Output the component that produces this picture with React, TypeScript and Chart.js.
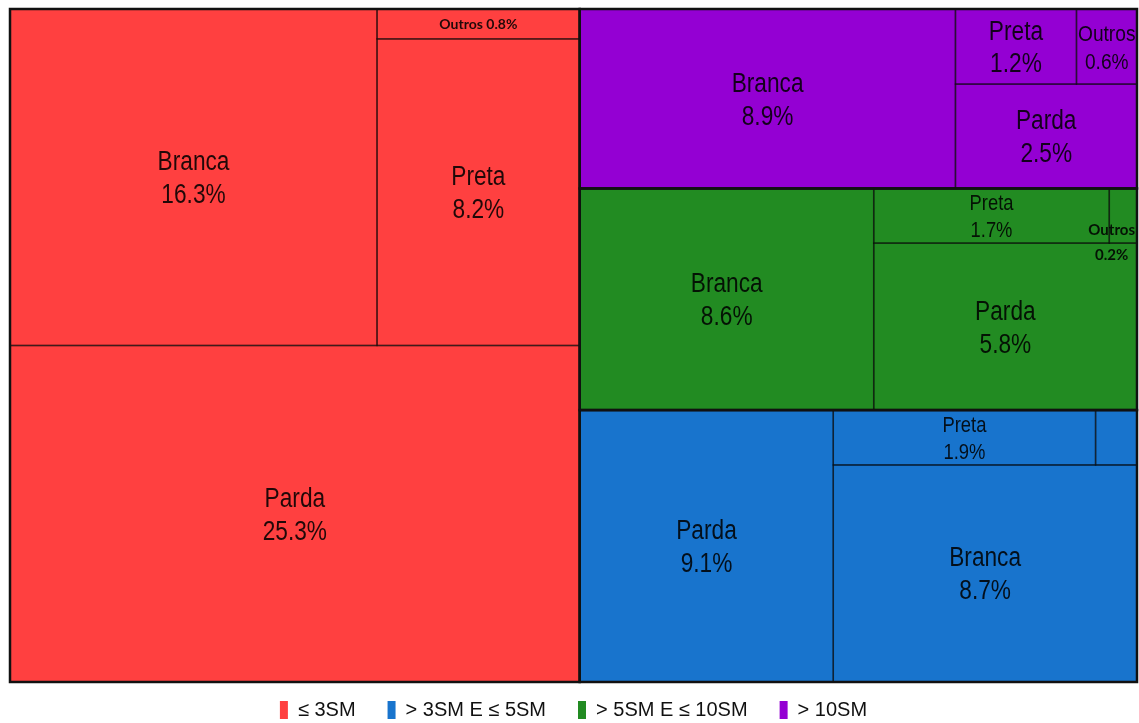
import React, { useEffect, useRef } from 'react';
import { Chart, registerables } from 'chart.js';

Chart.register(...registerables);

// ---- Data ----
const groupNames = ['≤ 3SM', '> 3SM E ≤ 5SM', '> 5SM E ≤ 10SM', '> 10SM'];
const raceLabels = ['Branca', 'Parda', 'Preta', 'Outros'];
const upTo3SMValues = [16.3, 25.3, 8.2, 0.8];
const from3To5SMValues = [8.7, 9.1, 1.9, 0.3];
const from5To10SMValues = [8.6, 5.8, 1.7, 0.2];
const over10SMValues = [8.9, 2.5, 1.2, 0.6];
const groupValues = [upTo3SMValues, from3To5SMValues, from5To10SMValues, over10SMValues];

// ---- Styles ----
const groupColors = ['#FF4040', '#1874CD', '#228B22', '#9400D3'];
// how the small "Outros" cell of each group is labelled
const outrosLabelMode = ['inlineBold', 'hidden', 'boldBelow', 'fit'];
const LABEL_FONT = "'Liberation Sans', Arial, sans-serif";
const BOLD_FONT = "Lato, 'Open Sans', sans-serif";
const NARROW = 0.84;

type Rect = { x: number; y: number; w: number; h: number };

function worst(row: number[], side: number) {
  const s = row.reduce((a, b) => a + b, 0);
  const mx = Math.max(...row);
  const mn = Math.min(...row);
  return Math.max((side * side * mx) / (s * s), (s * s) / (side * side * mn));
}

// squarified layout: columns placed at the left, rows placed at the bottom
function squarify(areas: number[], rect: Rect): Rect[] {
  const out: Rect[] = [];
  let r = { ...rect };
  let i = 0;
  while (i < areas.length) {
    const side = Math.min(r.w, r.h);
    const row = [areas[i]];
    let j = i + 1;
    while (j < areas.length && worst([...row, areas[j]], side) <= worst(row, side)) {
      row.push(areas[j]);
      j++;
    }
    const s = row.reduce((a, b) => a + b, 0);
    if (r.w >= r.h) {
      const cw = s / r.h;
      let y = r.y;
      row.forEach((v) => {
        const h = v / cw;
        out.push({ x: r.x, y, w: cw, h });
        y += h;
      });
      r = { x: r.x + cw, y: r.y, w: r.w - cw, h: r.h };
    } else {
      const rh = s / r.w;
      let x = r.x;
      row.forEach((v) => {
        const w = v / rh;
        out.push({ x, y: r.y, w, h: rh });
        x += w;
      });
      r = { x: r.x, y: r.y + rh, w: r.w, h: r.h - rh };
    }
    i = j;
  }
  return out;
}

function buildTreemap() {
  const groups = groupValues
    .map((vals, gi) => {
      const leaves = raceLabels
        .map((label, li) => ({ label, value: vals[li], li }))
        .sort((a, b) => b.value - a.value);
      const total = vals.reduce((a, b) => a + b, 0);
      return { gi, total, leaves, rect: null as Rect | null, leafRects: [] as Rect[] };
    })
    .sort((a, b) => b.total - a.total);
  const grand = groups.reduce((a, g) => a + g.total, 0);
  const rects = squarify(groups.map((g) => g.total / grand), { x: 0, y: 0, w: 1, h: 1 });
  groups.forEach((g, i) => {
    const r = rects[i];
    g.rect = r;
    const area = r.w * r.h;
    g.leafRects = squarify(g.leaves.map((l) => (l.value / g.total) * area), r);
  });
  return groups;
}

const treemapPlugin = {
  id: 'treemapCells',
  afterDatasetsDraw(chart: any) {
    const { ctx } = chart;
    const xs = chart.scales.x;
    const ys = chart.scales.y;
    const toPx = (r: Rect) => {
      const l = xs.getPixelForValue(r.x);
      const rr = xs.getPixelForValue(r.x + r.w);
      const t = ys.getPixelForValue(r.y + r.h);
      const b = ys.getPixelForValue(r.y);
      return { l, t, w: rr - l, h: b - t };
    };
    const groups = buildTreemap();
    ctx.save();
    // fills
    groups.forEach((g) => {
      g.leafRects.forEach((r) => {
        const p = toPx(r);
        ctx.fillStyle = groupColors[g.gi];
        ctx.fillRect(p.l, p.t, p.w, p.h);
      });
    });
    // leaf borders
    groups.forEach((g) => {
      g.leafRects.forEach((r) => {
        const p = toPx(r);
        ctx.strokeStyle = 'rgba(0,0,0,0.5)';
        ctx.lineWidth = 1.5;
        ctx.strokeRect(p.l, p.t, p.w, p.h);
      });
    });
    // group borders
    groups.forEach((g) => {
      const p = toPx(g.rect as Rect);
      ctx.strokeStyle = '#111';
      ctx.lineWidth = 2.5;
      ctx.strokeRect(p.l, p.t, p.w, p.h);
    });
    // labels
    const drawNarrow = (text: string, cx: number, cy: number) => {
      ctx.save();
      ctx.translate(cx, cy);
      ctx.scale(NARROW, 1);
      ctx.fillText(text, 0, 0);
      ctx.restore();
    };
    groups.forEach((g) => {
      g.leaves.forEach((leaf, k) => {
        const p = toPx(g.leafRects[k]);
        const pct = leaf.value.toFixed(1) + '%';
        const mode = leaf.label === 'Outros' ? outrosLabelMode[g.gi] : 'fit';
        ctx.textAlign = 'center';
        ctx.textBaseline = 'middle';
        ctx.fillStyle = 'rgba(0,0,0,0.87)';
        if (mode === 'hidden') return;
        if (mode === 'inlineBold') {
          ctx.font = `bold 14px ${BOLD_FONT}`;
          ctx.fillText(`${leaf.label} ${pct}`, p.l + p.w / 2, p.t + p.h / 2 + 1);
          return;
        }
        if (mode === 'boldBelow') {
          ctx.font = `bold 15px ${BOLD_FONT}`;
          const mw = Math.max(ctx.measureText(leaf.label).width, ctx.measureText(pct).width);
          const cx = Math.min(p.l + p.w / 2, p.l + p.w - mw / 2 - 2);
          const b = p.t + p.h;
          ctx.fillText(leaf.label, cx, b - 13);
          ctx.fillText(pct, cx, b + 12);
          return;
        }
        ctx.font = `100px ${LABEL_FONT}`;
        const unit = Math.max(ctx.measureText(leaf.label).width, ctx.measureText(pct).width) / 100;
        const size = Math.min(27, 0.4 * p.h, (0.95 * p.w) / (unit * NARROW));
        ctx.font = `${size}px ${LABEL_FONT}`;
        const lh = size * 1.22;
        const cy = p.t + p.h / 2 + 2;
        const cx = p.l + p.w / 2;
        drawNarrow(leaf.label, cx, cy - lh / 2);
        drawNarrow(pct, cx, cy + lh / 2);
      });
    });
    ctx.restore();
  },
};

export default function App() {
  const canvasRef = useRef<HTMLCanvasElement | null>(null);

  useEffect(() => {
    const canvas = canvasRef.current;
    if (!canvas) return;
    const chart = new Chart(canvas, {
      type: 'scatter',
      data: {
        datasets: groupNames.map((name, i) => ({
          label: name,
          data: [],
          backgroundColor: groupColors[i],
          borderColor: groupColors[i],
          borderWidth: 0,
        })),
      },
      options: {
        responsive: false,
        animation: false,
        events: [],
        layout: { padding: { left: 10, right: 2, top: 9, bottom: -7 } },
        scales: {
          x: { type: 'linear', min: 0, max: 1, display: false },
          y: { type: 'linear', min: 0.0208, max: 1, display: false },
        },
        plugins: {
          tooltip: { enabled: false },
          title: { display: false },
          legend: {
            position: 'bottom',
            labels: {
              boxWidth: 8,
              boxHeight: 18,
              padding: 32,
              color: '#111',
              font: { family: LABEL_FONT, size: 20 },
            },
          },
        },
      },
      plugins: [treemapPlugin],
    } as any);
    return () => chart.destroy();
  }, []);

  return (
    <div style={{ position: 'fixed', left: 0, top: 0, width: 1139, height: 723, background: '#fff' }}>
      <canvas ref={canvasRef} width={1139} height={723} style={{ width: 1139, height: 723, display: 'block' }} />
    </div>
  );
}
